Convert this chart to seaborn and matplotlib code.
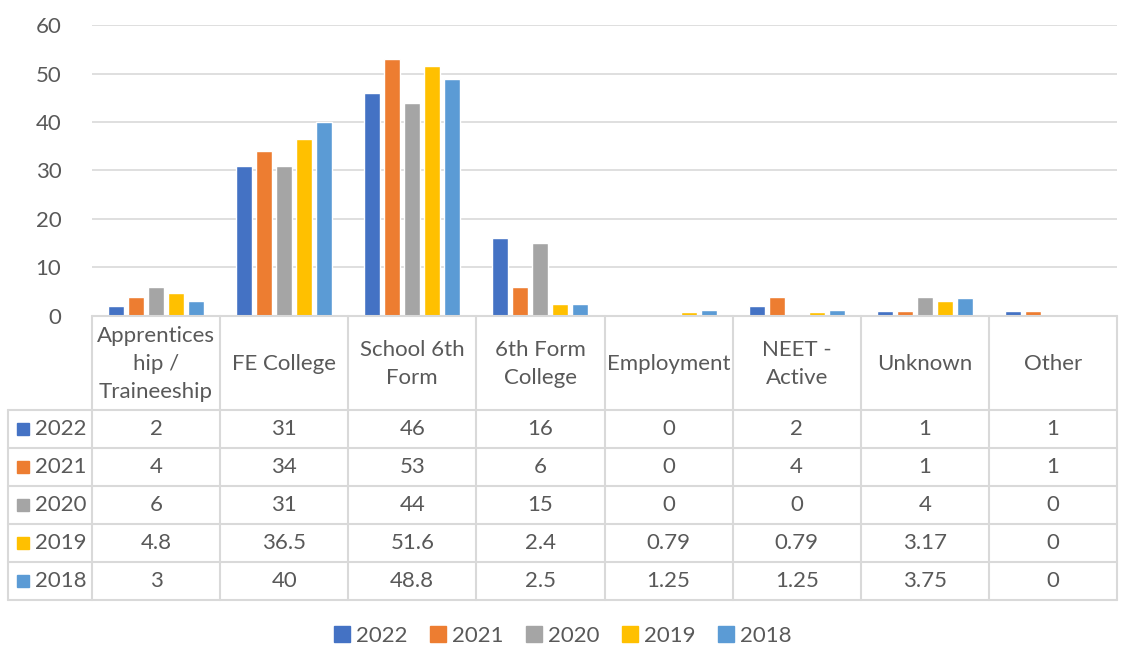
import matplotlib.pyplot as plt
from matplotlib.patches import Patch, Rectangle
import pandas as pd
import seaborn as sns

categories = ["Apprentices\nhip /\nTraineeship", "FE College", "School 6th\nForm", "6th Form\nCollege",
              "Employment", "NEET -\nActive", "Unknown", "Other"]
years = ["2022", "2021", "2020", "2019", "2018"]
v2022 = [2, 31, 46, 16, 0, 2, 1, 1]
v2021 = [4, 34, 53, 6, 0, 4, 1, 1]
v2020 = [6, 31, 44, 15, 0, 0, 4, 0]
v2019 = [4.8, 36.5, 51.6, 2.4, 0.79, 0.79, 3.17, 0]
v2018 = [3, 40, 48.8, 2.5, 1.25, 1.25, 3.75, 0]
colors = ["#4472C4", "#ED7D31", "#A5A5A5", "#FFC000", "#5B9BD5"]

series = [v2022, v2021, v2020, v2019, v2018]
rows = []
for y, vals in zip(years, series):
    for c, v in zip(categories, vals):
        rows.append({"cat": c, "year": y, "val": v})
df = pd.DataFrame(rows)

sns.set_style("white")
plt.rcParams['font.family'] = ['Lato', 'DejaVu Sans']
txt = "#595959"
grid = "#D9D9D9"
fs = 16

W, H = 1126, 648
fig = plt.figure(figsize=(W / 100, H / 100), dpi=100)
x0, x1, ytop, ybot = 92, 1117, 25, 316
ax = fig.add_axes([x0 / W, 1 - ybot / H, (x1 - x0) / W, (ybot - ytop) / H])
sns.barplot(data=df, x="cat", y="val", hue="year", palette=colors, width=0.78, gap=0.2,
            saturation=1, legend=False, ax=ax)
ax.set_ylim(0, 60)
ax.set_xlim(-0.5, len(categories) - 0.5)
ax.set_yticks(range(0, 61, 10))
ax.yaxis.grid(True, color=grid, lw=1.2)
ax.set_axisbelow(True)
ax.set_xticks([])
ax.set_xlabel("")
ax.set_ylabel("")
ax.tick_params(axis="y", length=0, pad=22, labelsize=fs, labelcolor=txt)
for s in ax.spines.values():
    s.set_visible(False)

# data table drawn in pixel coordinates on an overlay axes
tab = fig.add_axes([0, 0, 1, 1])
tab.set_xlim(0, W)
tab.set_ylim(H, 0)
tab.axis("off")
n = len(categories)
cw = (x1 - x0) / n
lx = 8
hdr_bot = 410
rh = 38
bottom = hdr_bot + rh * len(years)
lc = dict(color=grid, lw=1.5)
tab.plot([x0, x1], [ybot, ybot], **lc)
for k in range(len(years) + 1):
    yy = hdr_bot + rh * k
    tab.plot([lx, x1], [yy, yy], **lc)
tab.plot([lx, lx], [hdr_bot, bottom], **lc)
for i in range(n + 1):
    xx = x0 + cw * i
    tab.plot([xx, xx], [ybot, bottom], **lc)
for i, c in enumerate(categories):
    tab.text(x0 + cw * (i + 0.5), (ybot + hdr_bot) / 2 + 1, c, ha="center", va="center",
             fontsize=fs, color=txt, linespacing=1.5)
for k, (y, vals, col) in enumerate(zip(years, series, colors)):
    yc = hdr_bot + rh * (k + 0.5)
    tab.add_patch(Rectangle((17, yc - 6), 12, 12, color=col))
    tab.text(35, yc, y, ha="left", va="center", fontsize=fs, color=txt)
    for i, v in enumerate(vals):
        tab.text(x0 + cw * (i + 0.5), yc, f"{v:g}", ha="center", va="center", fontsize=fs, color=txt)

handles = [Patch(color=c, label=y) for y, c in zip(years, colors)]
fig.legend(handles=handles, loc="center", bbox_to_anchor=(0.5, 1 - 636 / H), ncol=5,
           frameon=False, fontsize=fs, labelcolor=txt, handlelength=0.7, handleheight=0.7,
           handletextpad=0.3, columnspacing=1.0)

fig.savefig("out.png", dpi=100)
